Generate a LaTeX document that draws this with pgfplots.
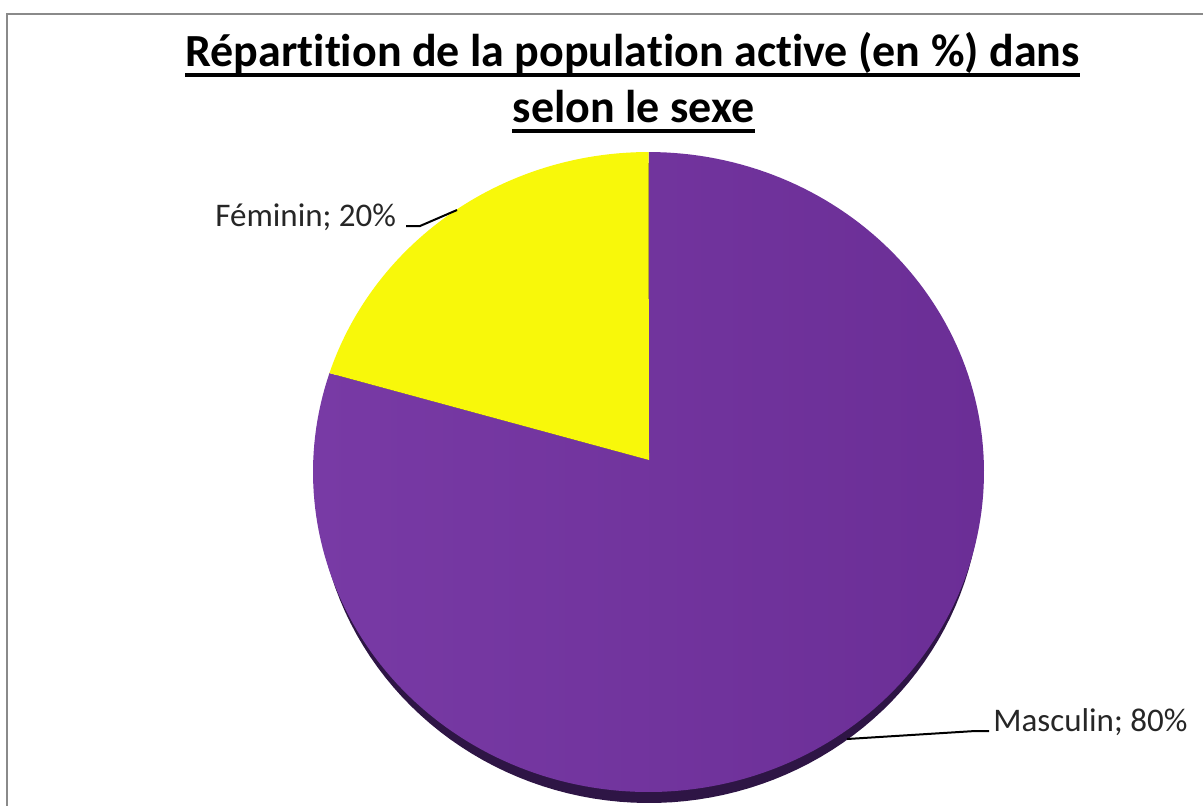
\documentclass[border=0pt]{standalone}
\usepackage{pgfplots}
\pgfplotsset{compat=1.18}
\usepackage{pgfplotstable}
\usepackage{fontspec}
\setmainfont{Carlito}[Ligatures=NoCommon]
\definecolor{yel}{HTML}{F8F80A}
\definecolor{purpL}{HTML}{783AA5}
\definecolor{purpR}{HTML}{6B2E96}
\definecolor{purpD}{HTML}{2E1545}
\definecolor{frame}{HTML}{8A8A8A}
\pgfplotstableread{
label value
Masculin 80
Feminin 20
}\piedata
\begin{document}
\begin{tikzpicture}
\pgfplotstablegetelem{1}{value}\of\piedata
\pgfmathsetmacro{\fend}{90+3.6*\pgfplotsretval}
\begin{axis}[
  width=601.5pt, height=402.5pt, scale only axis,
  xmin=0, xmax=1203, ymin=0, ymax=805, y dir=reverse,
  hide axis, clip=false,
]
% frame
\draw[frame, line width=1.3pt] (axis cs:7,1000) -- (axis cs:7,14) -- (axis cs:1400,14);
% 3D side (dark band)
\addplot[fill=purpD, draw=none, domain=0:360, samples=160, variable=\t]
  ({649+332*cos(t)},{483-320*sin(t)}) -- cycle;
% Masculin sector
\addplot[left color=purpL, right color=purpR, draw=none, domain=\fend:450, samples=200, variable=\t]
  ({648.5+335.5*cos(t)},{472-320*sin(t)}) -- (axis cs:649,460) -- cycle;
% Feminin sector
\addplot[fill=yel, draw=none, domain=90:\fend, samples=80, variable=\t]
  ({648.5+335.5*cos(t)},{472-320*sin(t)}) -- (axis cs:649,460) -- cycle;
% leader lines
\draw[black, line width=1pt] (axis cs:457,210) -- (axis cs:420,226) -- (axis cs:406,226);
\draw[black, line width=1pt] (axis cs:847,739) -- (axis cs:975,731) -- (axis cs:989,731);
% labels
\node[anchor=base west, inner sep=0pt, font=\fontsize{16.5pt}{18pt}\selectfont, text=black!85]
  at (axis cs:215,226) {Féminin; 20\%};
\node[anchor=base west, inner sep=0pt, font=\fontsize{16.5pt}{18pt}\selectfont, text=black!85]
  at (axis cs:993,731) {Masculin; 80\%};
% title
\node[anchor=base, inner sep=0pt, font=\bfseries\fontsize{23pt}{26pt}\selectfont] (t1)
  at (axis cs:632.5,66) {Répartition de la population active (en \%) dans};
\node[anchor=base, inner sep=0pt, font=\bfseries\fontsize{23pt}{26pt}\selectfont] (t2)
  at (axis cs:633.5,122) {selon le sexe};
\draw[line width=1.6pt] ([yshift=-4.5pt]t1.base west) -- ([yshift=-4.5pt]t1.base east);
\draw[line width=1.6pt] ([yshift=-4.5pt]t2.base west) -- ([yshift=-4.5pt]t2.base east);
\end{axis}
\pgfresetboundingbox
\path[use as bounding box] (0,0) rectangle (601.5pt,402.5pt);
\end{tikzpicture}
\end{document}
